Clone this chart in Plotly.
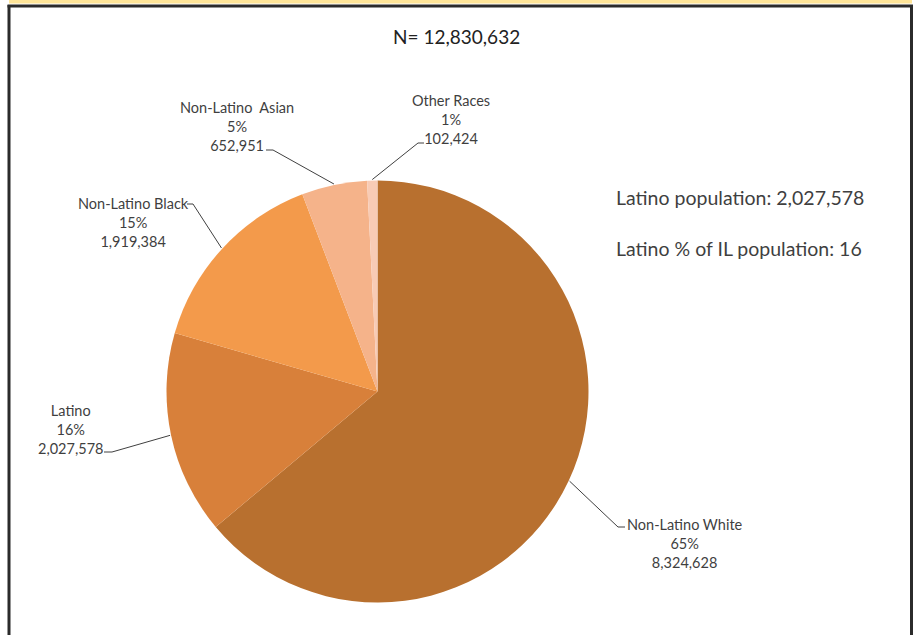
import math
import plotly.graph_objects as go

# ---- data ----
categories = ["Non-Latino White", "Latino", "Non-Latino Black", "Non-Latino\u00a0 Asian", "Other Races"]
values = [8324628, 2027578, 1919384, 652951, 102424]
pct_labels = ["65%", "16%", "15%", "5%", "1%"]
value_labels = ["8,324,628", "2,027,578", "1,919,384", "652,951", "102,424"]
colors = ["#B8702F", "#D8803A", "#F39A4B", "#F5B38A", "#F8CBB5"]
total_n = "12,830,632"
latino_pop = "2,027,578"
latino_pct = 16

# ---- layout constants (pixels) ----
W, H = 914, 635
cx, cy, R = 377.5, 391.5, 211
FONT = "Lato, 'Liberation Sans', Arial, sans-serif"
TXT = "#3f3f3f"

def px(x):
    return x / W

def py(y):
    return 1 - y / H

# label centre, stub start, stub end (pixels)
label_layout = [
    ((685, 543), (625, 527), (618, 527)),
    ((70, 429), (104, 452), (112, 452)),
    ((133, 222), (187, 204), (193, 204)),
    ((237, 127), (266, 150), (273, 150)),
    ((451, 119), (424, 143), (418, 143)),
]

fig = go.Figure()
fig.add_trace(go.Pie(
    labels=categories,
    values=values,
    marker=dict(colors=colors, line=dict(width=0)),
    sort=False,
    direction="clockwise",
    rotation=0,
    textinfo="none",
    hoverinfo="label+value+percent",
    showlegend=False,
    domain=dict(x=[px(cx - R), px(cx + R)], y=[py(cy + R), py(cy - R)]),
))

shapes = []
annotations = []
total = sum(values)
cum = 0.0
for i, v in enumerate(values):
    mid = (cum + v / 2) / total * 2 * math.pi
    cum += v
    ex = cx + (R + 1) * math.sin(mid)
    ey = cy - (R + 1) * math.cos(mid)
    (lx, ly), (s1x, s1y), (s2x, s2y) = label_layout[i]
    shapes.append(dict(
        type="path", xref="paper", yref="paper",
        path=f"M {px(s1x)} {py(s1y)} L {px(s2x)} {py(s2y)} L {px(ex)} {py(ey)}",
        line=dict(color="#404040", width=1),
    ))
    annotations.append(dict(
        x=px(lx), y=py(ly), xref="paper", yref="paper",
        text=f"{categories[i]}<br>{pct_labels[i]}<br>{value_labels[i]}",
        showarrow=False, xanchor="center", yanchor="middle", align="center",
        font=dict(family=FONT, size=14.5, color=TXT),
    ))

annotations.append(dict(
    x=px(456), y=py(37), xref="paper", yref="paper",
    text=f"N= {total_n}", showarrow=False, xanchor="center", yanchor="middle",
    font=dict(family=FONT, size=19, color="#222222"),
))
annotations.append(dict(
    x=px(614), y=py(197), xref="paper", yref="paper",
    text=f"Latino population: {latino_pop}", showarrow=False, xanchor="left", yanchor="middle",
    font=dict(family=FONT, size=19.5, color=TXT),
))
annotations.append(dict(
    x=px(614), y=py(248), xref="paper", yref="paper",
    text=f"Latino % of IL population: {latino_pct}", showarrow=False, xanchor="left", yanchor="middle",
    font=dict(family=FONT, size=19.5, color=TXT),
))

# frame
shapes.append(dict(type="rect", xref="paper", yref="paper",
                   x0=px(9), x1=px(912), y0=py(0), y1=py(3.5),
                   fillcolor="#FFE598", line=dict(width=0), layer="below"))
for (x0, y0, x1, y1) in [(7.5, 6, 913, 6), (9, 5, 9, 640), (911.5, 5, 911.5, 640)]:
    shapes.append(dict(type="line", xref="paper", yref="paper",
                       x0=px(x0), y0=py(y0), x1=px(x1), y1=py(y1),
                       line=dict(color="#2b2b2b", width=3)))

fig.update_layout(
    width=W, height=H,
    margin=dict(l=0, r=0, t=0, b=0),
    paper_bgcolor="white",
    plot_bgcolor="white",
    shapes=shapes,
    annotations=annotations,
)

fig.write_html(
    "out.html",
    config={"displayModeBar": False},
    post_script="document.body.style.margin='0';document.body.style.overflow='hidden';",
)
